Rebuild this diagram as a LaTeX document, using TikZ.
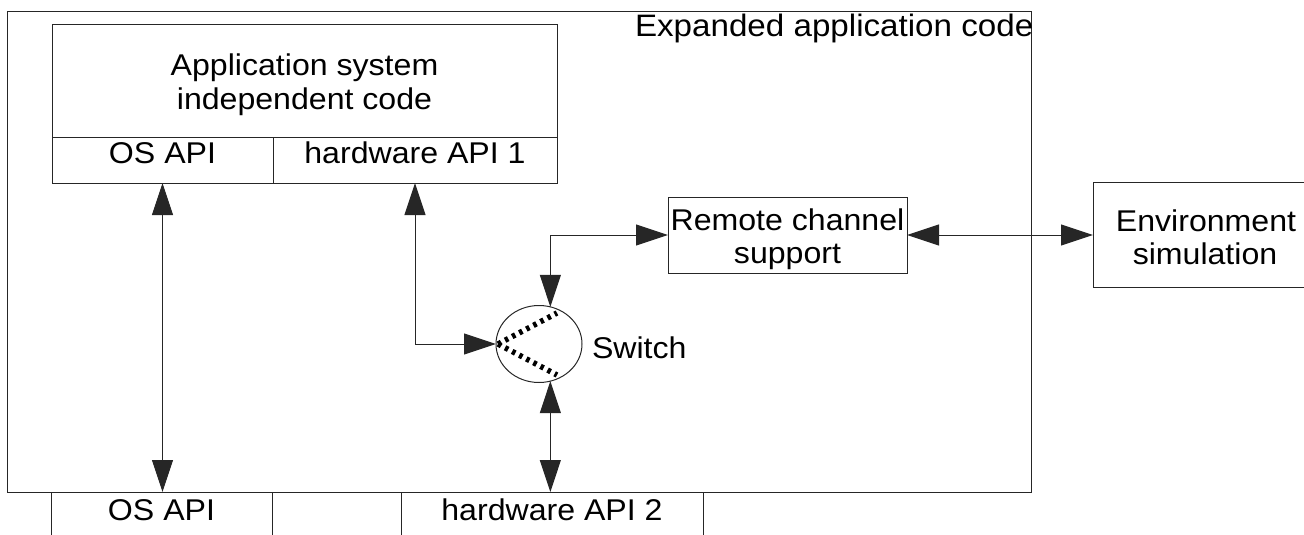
\documentclass[tikz,border=0pt]{standalone}
\usepackage{fontspec}
\setmainfont[FakeStretch=1.07]{Liberation Sans}
\usetikzlibrary{arrows.meta,shapes.geometric,calc}
\begin{document}
\begin{tikzpicture}[x=1pt,y=-1pt,
  ln/.style={draw=black!85, line width=1pt},
  boxn/.style={ln, rectangle, inner sep=0pt, outer sep=0pt, anchor=north west},
  txt/.style={font=\fontsize{30}{36}\selectfont, inner sep=0pt, outer sep=0pt},
  ctxt/.style={txt, text height=0.716em, text depth=0pt},
  dbl/.style={ln, {Triangle[length=32pt,width=21pt]}-{Triangle[length=32pt,width=21pt]}},
  swline/.style={line width=5.5pt, dash pattern=on 3.5pt off 4.5pt}
]
\useasboundingbox (0,0) rectangle (1304,535);
\node[boxn, minimum width=1024pt, minimum height=480pt] (outer) at (7,12) {};
\node[txt, font=\fontsize{31}{36}\selectfont, anchor=base west] (outerlbl) at (635,37) {Expanded application code};
\node[boxn, minimum width=505pt, minimum height=112pt] (app) at (52,25) {};
\node[txt, anchor=base] (app1) at (304.5,75) {Application system};
\node[txt, anchor=base] (app2) at (304.5,110) {independent code};
\node[boxn, ctxt, minimum width=221pt, minimum height=46pt] (os1) at (52,137) {OS API};
\node[boxn, ctxt, minimum width=284pt, minimum height=46pt] (hw1) at (273,137) {hardware API 1};
\node[boxn, ctxt, minimum width=221pt, minimum height=50pt] (os2) at (51,492) {OS API};
\node[boxn, ctxt, minimum width=302pt, minimum height=50pt] (hw2) at (401,492) {hardware API 2};
\node[boxn, minimum width=239pt, minimum height=76pt] (rc) at (668,197) {};
\node[txt, anchor=base] (rc1) at (787.5,230) {Remote channel};
\node[txt, anchor=base] (rc2) at (787.5,263) {support};
\node[boxn, minimum width=220pt, minimum height=105pt] (env) at (1093,182) {};
\node[txt, anchor=base] (env1) at (1206,231) {Environment};
\node[txt, anchor=base] (env2) at (1205,264) {simulation};
\node[ln, ellipse, minimum width=86pt, minimum height=77pt, inner sep=0pt, outer sep=0pt] (sw) at (539,344) {};
\node[txt, anchor=base west] (swl) at (592,358) {Switch};
\draw[dbl] (os1.south) -- (os1.south |- outer.south);
\draw[dbl] (hw1.south) |- (sw.west);
\draw[dbl] (rc.west) -| (sw.73);
\draw[dbl] (sw.-73) -- (sw.-73 |- outer.south);
\draw[dbl] (rc.east) -- (rc.east -| env.west);
\draw[swline] ($(sw.west)+(2,0)$) -- ($(sw.center)+(18,-31)$);
\draw[swline] ($(sw.west)+(2,0)$) -- ($(sw.center)+(18,31)$);
\end{tikzpicture}
\end{document}
